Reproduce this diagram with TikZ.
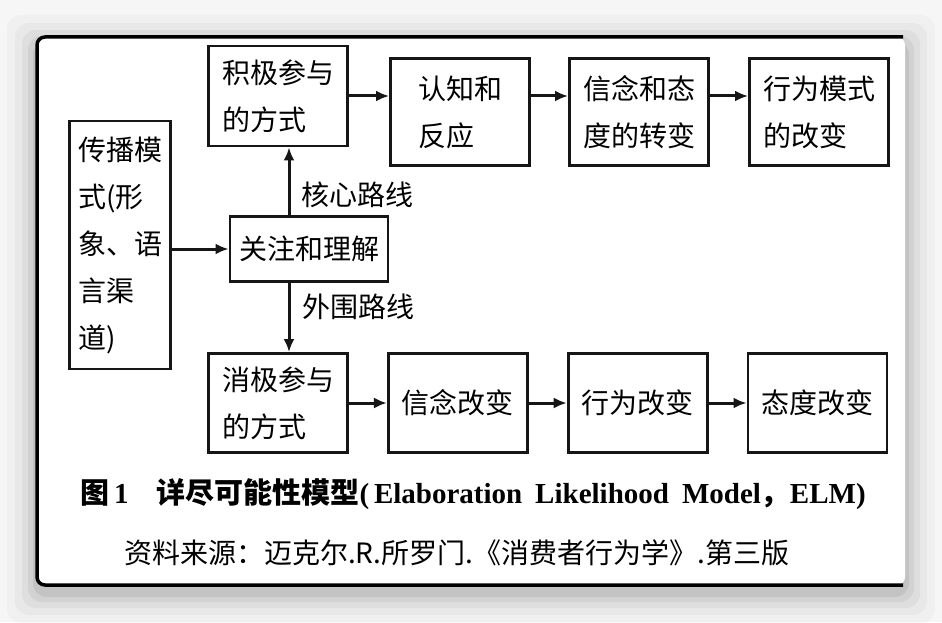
\documentclass[tikz,border=0pt]{standalone}
\usepackage{fontspec}
\setmainfont{Liberation Serif}
\newfontfamily\cjk{Noto Sans CJK SC}
\usetikzlibrary{arrows.meta, calc, positioning}
\definecolor{inkgray}{RGB}{22, 22, 22}
\definecolor{pagegray}{RGB}{246, 246, 246}

\begin{document}
\begin{tikzpicture}[x=1pt, y=-1pt,
				stagebox/.style={draw=inkgray, line width=2.8pt, fill=white,
					minimum width=139pt, minimum height=105pt, align=left,
					inner sep=0pt, font=\cjk\fontsize{28}{47}\selectfont},
				sourcebox/.style={stagebox, minimum width=101pt, minimum height=248pt},
				focusbox/.style={stagebox, minimum width=158pt, minimum height=65pt},
				routelabel/.style={font=\cjk\fontsize{28}{34}\selectfont, inner sep=0pt},
				arr/.style={-{Latex[length=13pt, width=11pt]}, line width=3pt, draw=inkgray}
				]
				% page and card
				\fill[pagegray] (0,0) rectangle (942,622);
				\foreach \s/\o in {30/0.025, 22/0.03, 15/0.04, 9/0.05, 4/0.07}
				\fill[black, opacity=\o, rounded corners=14pt]
				(37-\s,37-\s+8) rectangle (905+\s,585+\s+8);
				\fill[white, rounded corners=8pt] (37,37) rectangle (905,585);
				\draw[black, line width=3.5pt, rounded corners=8pt]
				(903,37) -- (37,37) -- (37,585) -- (903,585);
				% upper route
				\node[stagebox, minimum height=100pt] (pos) at (278,96) {积极参与\\的方式};
				\node[stagebox, minimum height=107pt] (cog) at (460,112) {认知和\\反应};
				\node[stagebox, minimum height=107pt] (belief) at (639,112) {信念和态\\度的转变};
				\node[stagebox, minimum height=107pt] (habit) at (819,112) {行为模式\\的改变};
				% source and attention
				\node[sourcebox] (comm) at (120,245) {传播模\\式(形\\象、语\\言渠\\道)};
				\node[focusbox] (attn) at (309,249) {关注和理解};
				% lower route
				\node[stagebox, minimum height=99pt] (neg) at (278,403) {消极参与\\的方式};
				\node[stagebox, minimum height=99pt, right=38pt of neg] (belief2) {信念改变};
				\node[stagebox, minimum height=99pt, right=38pt of belief2] (habit2) {行为改变};
				\node[stagebox, minimum height=99pt, right=38pt of habit2] (attitude) {态度改变};

				\draw[arr] (comm.east |- attn.west) -- (attn.west);
				\draw[arr] ([xshift=-20pt]attn.north) -- ([xshift=-20pt]attn.north |- pos.south)
				node[routelabel, pos=0.3, right=11pt] (core) {核心路线};
				\draw[arr] ([xshift=-20pt]attn.south) -- ([xshift=-20pt]attn.south |- neg.north)
				node[routelabel, pos=0.35, right=12pt] (periph) {外围路线};
				\draw[arr] (pos.east) -- (pos.east -| cog.west);
				\draw[arr] (cog.east |- pos.east) -- (pos.east -| belief.west);
				\draw[arr] (belief.east |- pos.east) -- (pos.east -| habit.west);
				\draw[arr] (neg) -- (belief2);
				\draw[arr] (belief2) -- (habit2);
				\draw[arr] (habit2) -- (attitude);

				% caption
				\node[anchor=west, inner sep=0pt, font=\fontsize{29}{34}\selectfont\bfseries] (caption) at (80,494)
				{{\cjk\bfseries 图}\,1\hspace{28pt}{\cjk\bfseries 详尽可能性模型}(\,Elaboration\hspace{13pt}Likelihood\hspace{13pt}Model{\cjk\bfseries ，}ELM)};
				\node[anchor=west, inner sep=0pt, font=\cjk\fontsize{28}{32}\selectfont] (source) at (124,553)
				{资料来源：迈克尔.R.所罗门.《消费者行为学》.第三版};
			\end{tikzpicture}
\end{document}
